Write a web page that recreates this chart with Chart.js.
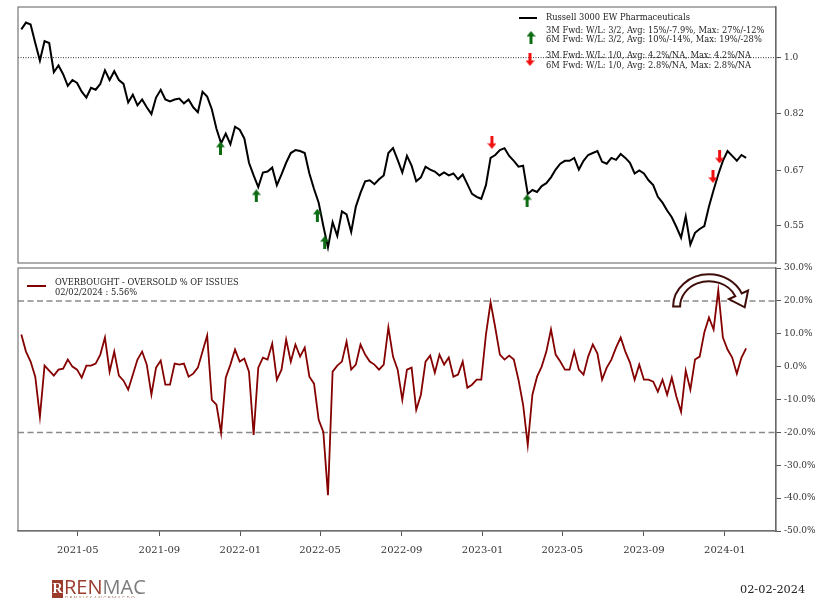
<!DOCTYPE html>
<html>
<head>
<meta charset="utf-8">
<title>Russell 3000 EW Pharmaceuticals</title>
<script src="https://cdn.jsdelivr.net/npm/chart.js@4.4.1/dist/chart.umd.min.js"></script>
<style>
  html, body { margin: 0; padding: 0; background: #fff; }
  body { width: 831px; height: 598px; position: relative; overflow: hidden; font-family: "DejaVu Serif", serif; }
  #topCanvas { position: absolute; left: 0; top: 0; }
  #botCanvas { position: absolute; left: 0; top: 250px; }
  #logo { position: absolute; left: 52px; top: 579px; width: 130px; height: 19px; overflow: hidden; z-index: 2; }
  #logo .mark { position: absolute; left: 0; top: 1px; width: 11px; height: 18px; background: #9a3b2c; color: #fff;
                font: bold 14px "Liberation Serif", serif; line-height: 18px; text-align: center; }
  #logo .word { position: absolute; left: 12px; top: -6px; font: 400 20px "Open Sans", sans-serif; white-space: nowrap; line-height: 28px; }
  #logo .ren { color: #9a3b2c; }
  #logo .mac { color: #7c7c7c; }
  #logo .sub { position: absolute; left: 13px; top: 16px; font: 5px "Open Sans", sans-serif; letter-spacing: 1.3px; color: #b0786c; white-space: nowrap; }
  #stamp { position: absolute; left: 740px; top: 583px; font: 11.3px "DejaVu Serif", serif; color: #222; z-index: 2; }
</style>
</head>
<body>
<canvas id="topCanvas" width="831" height="270"></canvas>
<canvas id="botCanvas" width="831" height="348"></canvas>
<div id="logo"><div class="mark">R</div><div class="word"><span class="ren">REN</span><span class="mac">MAC</span></div><div class="sub">RENAISSANCEMACRO</div></div>
<div id="stamp">02-02-2024</div>
<script>
// ---- weekly observations (Fridays), first one 2021-02-05 ----
const firstWeek = '2021-02-05';
const weekCount = 157;

// Russell 3000 EW Pharmaceuticals, relative level
const priceValues = [
  1.1055, 1.1325, 1.1247, 1.0532, 0.9897, 1.0605, 1.0532, 0.9495, 0.9727, 0.9429,
  0.9046, 0.9236, 0.9140, 0.8860, 0.8678, 0.8984, 0.8922, 0.9109, 0.9560, 0.9236,
  0.9528, 0.9236, 0.9109, 0.8530, 0.8769, 0.8442, 0.8619, 0.8383, 0.8183, 0.8678,
  0.8922, 0.8619, 0.8559, 0.8619, 0.8648, 0.8500, 0.8619, 0.8383, 0.8240, 0.8860,
  0.8708, 0.8326, 0.7769, 0.7377, 0.7636, 0.7352, 0.7823, 0.7742, 0.7505, 0.6884,
  0.6581, 0.6314, 0.6650, 0.6673, 0.6766, 0.6358, 0.6604, 0.6884, 0.7126, 0.7201,
  0.7176, 0.7126, 0.6627, 0.6271, 0.5974, 0.5499, 0.5096, 0.5575, 0.5311, 0.5791,
  0.5731, 0.5385, 0.5892, 0.6184, 0.6446, 0.6469, 0.6380, 0.6491, 0.6581, 0.7126,
  0.7250, 0.6955, 0.6650, 0.7053, 0.6813, 0.6446, 0.6536, 0.6789, 0.6719, 0.6673,
  0.6581, 0.6650, 0.6581, 0.6627, 0.6491, 0.6604, 0.6380, 0.6163, 0.6099, 0.6057,
  0.6358, 0.7004, 0.7077, 0.7201, 0.7250, 0.7053, 0.6932, 0.6789, 0.6813, 0.6163,
  0.6249, 0.6206, 0.6336, 0.6402, 0.6536, 0.6719, 0.6861, 0.6932, 0.6932, 0.7004,
  0.6719, 0.6932, 0.7077, 0.7126, 0.7176, 0.6908, 0.6861, 0.7004, 0.6955, 0.7101,
  0.7004, 0.6884, 0.6627, 0.6697, 0.6627, 0.6469, 0.6358, 0.6099, 0.5974, 0.5811,
  0.5672, 0.5480, 0.5275, 0.5692, 0.5149, 0.5367, 0.5442, 0.5499, 0.5892, 0.6249,
  0.6604, 0.6932, 0.7176, 0.7053, 0.6932, 0.7077, 0.7004
];

// Overbought - oversold % of issues
const oscValues = [
  9.77, 4.58, 1.53, -3.05, -15.27, 0.31, -1.22, -2.75, -0.92, -0.61,
  2.14, 0.00, -0.92, -3.36, 0.31, 0.31, 0.92, 3.66, 8.85, -1.53,
  4.58, -2.75, -4.27, -7.02, -2.44, 2.14, 4.58, 0.61, -8.55, -0.31,
  1.83, -5.50, -5.50, 0.92, 0.61, 0.92, -3.05, -2.14, -0.31, 4.58,
  9.47, -10.08, -11.60, -20.15, -3.36, 0.61, 5.19, 1.53, 2.44, -1.53,
  -20.76, -0.31, 2.75, 2.14, 7.02, -3.97, -0.92, 8.24, 1.53, 6.72,
  3.05, 5.80, -3.05, -5.19, -16.18, -19.85, -39.08, -1.53, 0.31, 1.53,
  7.63, -0.92, 0.61, 6.72, 3.66, 1.53, 0.61, -0.92, 0.61, 11.91,
  3.05, -0.92, -10.08, -0.92, -0.31, -13.13, -8.55, 1.53, 3.36, -1.83,
  3.66, 0.61, 2.75, -3.05, -2.44, 1.53, -6.41, -5.50, -3.97, -3.97,
  9.77, 19.54, 11.91, 3.66, 2.14, 3.36, 2.14, -3.97, -11.60, -23.82,
  -8.55, -3.05, 0.00, 4.58, 11.30, 3.66, 1.53, -0.92, -0.92, 4.58,
  -0.92, -2.44, 3.05, 6.72, 3.97, -3.97, -0.31, 2.14, 5.80, 8.85,
  4.58, 1.22, -3.97, 0.61, -3.97, -3.97, -4.58, -7.63, -3.97, -8.55,
  -3.36, -9.16, -13.74, -1.22, -7.02, 2.14, 3.05, 10.38, 14.96, 11.30,
  23.21, 8.85, 5.19, 2.75, -2.14, 2.75, 5.56
];

// Signal markers on the price line
const buyDates   = ['2021-12-02', '2022-01-25', '2022-04-27', '2022-05-08', '2023-03-09'];
const buyLevels  = [0.7250, 0.6120, 0.5712, 0.5185, 0.6016];
const sellDates  = ['2023-01-15', '2023-12-14', '2023-12-24'];
const sellLevels = [0.7402, 0.6559, 0.7028];

// Axis ticks
const monthTicks = ['2021-05', '2021-09', '2022-01', '2022-05', '2022-09', '2023-01', '2023-05', '2023-09', '2024-01'];
const priceTicks = [0.55, 0.67, 0.82, 1.0];
const priceTickLabels = ['0.55', '0.67', '0.82', '1.0'];
const oscTicks = [-50, -40, -30, -20, -10, 0, 10, 20, 30];
const oscBands = [20, -20];

const seriesName = 'Russell 3000 EW Pharmaceuticals';
const buyStats  = ['3M Fwd: W/L: 3/2, Avg: 15%/-7.9%, Max: 27%/-12%', '6M Fwd: W/L: 3/2, Avg: 10%/-14%, Max: 19%/-28%'];
const sellStats = ['3M Fwd: W/L: 1/0, Avg: 4.2%/NA, Max: 4.2%/NA', '6M Fwd: W/L: 1/0, Avg: 2.8%/NA, Max: 2.8%/NA'];
const oscName = 'OVERBOUGHT - OVERSOLD % OF ISSUES';

// ---- helpers ----
const DAY = 86400000;
const t0 = Date.parse(firstWeek);
const weekDates = Array.from({ length: weekCount }, (_, i) => t0 + i * 7 * DAY);
const X_MIN = Date.parse('2021-01-31');
const X_MAX = Date.parse('2024-03-18');
const SERIF = '"DejaVu Serif", "Liberation Serif", serif';
const LEGEND_FONT = '8.3px ' + SERIF;
Chart.defaults.font.family = SERIF;

function monthLabel(v) {
  const d = new Date(v);
  return d.getUTCFullYear() + '-' + String(d.getUTCMonth() + 1).padStart(2, '0');
}
function dmy(v) {
  const d = new Date(v);
  return String(d.getUTCMonth() + 1).padStart(2, '0') + '/' + String(d.getUTCDate()).padStart(2, '0') + '/' + d.getUTCFullYear();
}
function arrowIcon(color, up) {
  const c = document.createElement('canvas');
  c.width = 9; c.height = 13;
  const g = c.getContext('2d');
  g.fillStyle = color;
  g.beginPath();
  if (up) {
    g.moveTo(4.5, 0); g.lineTo(9, 5.5); g.lineTo(6, 5.5); g.lineTo(6, 13); g.lineTo(3, 13); g.lineTo(3, 5.5); g.lineTo(0, 5.5);
  } else {
    g.moveTo(4.5, 13); g.lineTo(9, 7.5); g.lineTo(6, 7.5); g.lineTo(6, 0); g.lineTo(3, 0); g.lineTo(3, 7.5); g.lineTo(0, 7.5);
  }
  g.closePath();
  g.fill();
  return c;
}
const upArrow = arrowIcon('#0d6b12', true);
const downArrow = arrowIcon('#f01010', false);

// keep the plot rectangle fixed: no automatic room for half tick labels
function noLabelOverflow(s) { s.paddingTop = 0; s.paddingBottom = 0; s.paddingLeft = 0; s.paddingRight = 0; }

const xAxisBase = {
  type: 'linear', min: X_MIN, max: X_MAX,
  afterBuildTicks: s => { s.ticks = monthTicks.map(m => ({ value: Date.parse(m + '-01') })); },
  ticks: { callback: v => monthLabel(v), autoSkip: false, maxRotation: 0, padding: 8, color: '#333', font: { size: 10 } },
  grid: { display: true, drawOnChartArea: false, drawTicks: true, tickLength: 5, color: '#555' },
  border: { display: true, color: '#666', width: 1.2 }
};

const framePlugin = {
  id: 'frame',
  afterDraw(chart) {
    const { ctx, chartArea: a } = chart;
    ctx.save();
    ctx.strokeStyle = '#777';
    ctx.lineWidth = 1.2;
    ctx.strokeRect(a.left, a.top, a.right - a.left, a.bottom - a.top);
    ctx.restore();
  }
};

// ---- price panel ----
const topPlugin = {
  id: 'topExtras',
  beforeDatasetsDraw(chart) {
    const { ctx, chartArea: a, scales: { y } } = chart;
    const py = y.getPixelForValue(1.0);
    ctx.save();
    ctx.strokeStyle = '#333';
    ctx.lineWidth = 1;
    ctx.setLineDash([1, 1.5]);
    ctx.beginPath();
    ctx.moveTo(a.left, py); ctx.lineTo(a.right + 3, py);
    ctx.stroke();
    ctx.restore();
  },
  afterDraw(chart) {
    const { ctx } = chart;
    ctx.save();
    ctx.strokeStyle = '#000';
    ctx.lineWidth = 2;
    ctx.beginPath(); ctx.moveTo(519, 18); ctx.lineTo(537, 18); ctx.stroke();
    ctx.fillStyle = '#222';
    ctx.textBaseline = 'middle';
    ctx.font = LEGEND_FONT;
    ctx.fillText(seriesName, 546, 18);
    ctx.drawImage(upArrow, 526.5, 31);
    ctx.fillText(buyStats[0], 546, 31);
    ctx.fillText(buyStats[1], 546, 40);
    ctx.drawImage(downArrow, 525.5, 53);
    ctx.fillText(sellStats[0], 546, 56);
    ctx.fillText(sellStats[1], 546, 65.5);
    ctx.restore();
  }
};

new Chart(document.getElementById('topCanvas'), {
  type: 'line',
  data: {
    datasets: [
      { label: 'buy', order: 0, showLine: false, pointStyle: upArrow, pointRadius: 6,
        data: buyDates.map((d, i) => ({ x: Date.parse(d), y: buyLevels[i] })) },
      { label: 'sell', order: 0, showLine: false, pointStyle: downArrow, pointRadius: 6,
        data: sellDates.map((d, i) => ({ x: Date.parse(d), y: sellLevels[i] })) },
      { label: seriesName, order: 1, borderColor: '#000', borderWidth: 2, pointRadius: 0, tension: 0,
        data: weekDates.map((d, i) => ({ x: d, y: priceValues[i] })) }
    ]
  },
  options: {
    responsive: false, animation: false, events: [],
    layout: { padding: { top: 5, left: 18, right: 0, bottom: 2 } },
    plugins: { legend: { display: false }, tooltip: { enabled: false } },
    scales: {
      x: Object.assign({}, xAxisBase, { display: false }),
      y: {
        type: 'logarithmic', position: 'right', min: 0.4822, max: 1.197,
        afterBuildTicks: s => { s.ticks = priceTicks.map(v => ({ value: v })); },
        afterFit: s => { s.width = 55; noLabelOverflow(s); },
        ticks: { callback: v => priceTickLabels[priceTicks.indexOf(v)], padding: 3, color: '#333', font: { size: 9 } },
        grid: { display: true, drawOnChartArea: false, drawTicks: true, tickLength: 5, color: '#555' },
        border: { display: true, color: '#555', width: 1.2 }
      }
    }
  },
  plugins: [topPlugin, framePlugin]
});

// ---- oscillator panel ----
const turnArrow = { centerDate: Date.parse('2023-12-08'), halfSpanDays: 54, baseValue: 18.3, topValue: 28.1 };

const botPlugin = {
  id: 'botExtras',
  beforeDatasetsDraw(chart) {
    const { ctx, chartArea: a, scales: { y } } = chart;
    ctx.save();
    ctx.strokeStyle = '#8a8a8a';
    ctx.lineWidth = 1.5;
    ctx.setLineDash([6, 3.5]);
    oscBands.forEach(v => {
      const py = y.getPixelForValue(v);
      ctx.beginPath(); ctx.moveTo(a.left, py); ctx.lineTo(a.right, py); ctx.stroke();
    });
    ctx.restore();
  },
  afterDatasetsDraw(chart) {
    const { ctx, scales: { x, y } } = chart;
    const cx = x.getPixelForValue(turnArrow.centerDate);
    const rxO = x.getPixelForValue(turnArrow.centerDate + turnArrow.halfSpanDays * DAY) - cx;
    const cy = y.getPixelForValue(turnArrow.baseValue);
    const ryO = cy - y.getPixelForValue(turnArrow.topValue);
    const w = 7, rxI = rxO - w, ryI = ryO - w, a1 = -0.42;
    const pO = [cx + rxO * Math.cos(a1), cy + ryO * Math.sin(a1)];
    const pI = [cx + rxI * Math.cos(a1), cy + ryI * Math.sin(a1)];
    let nx = pO[0] - pI[0], ny = pO[1] - pI[1];
    const nl = Math.hypot(nx, ny); nx /= nl; ny /= nl;
    let tx = -rxO * Math.sin(a1), ty = ryO * Math.cos(a1);
    const tl = Math.hypot(tx, ty); tx /= tl; ty /= tl;
    const mid = [(pO[0] + pI[0]) / 2, (pO[1] + pI[1]) / 2];
    ctx.save();
    ctx.beginPath();
    ctx.ellipse(cx, cy, rxO, ryO, 0, Math.PI, 2 * Math.PI + a1, false);
    ctx.lineTo(pO[0] + nx * 7, pO[1] + ny * 7);
    ctx.lineTo(mid[0] + tx * 14, mid[1] + ty * 14);
    ctx.lineTo(pI[0] - nx * 7, pI[1] - ny * 7);
    ctx.lineTo(pI[0], pI[1]);
    ctx.ellipse(cx, cy, rxI, ryI, 0, 2 * Math.PI + a1, Math.PI, true);
    ctx.closePath();
    ctx.fillStyle = '#fff';
    ctx.fill();
    ctx.strokeStyle = '#3f0d0a';
    ctx.lineWidth = 2;
    ctx.lineJoin = 'miter';
    ctx.stroke();
    ctx.restore();
  },
  afterDraw(chart) {
    const { ctx } = chart;
    const last = weekCount - 1;
    ctx.save();
    ctx.strokeStyle = '#800000';
    ctx.lineWidth = 2;
    ctx.beginPath(); ctx.moveTo(27, 36); ctx.lineTo(46, 36); ctx.stroke();
    ctx.fillStyle = '#222';
    ctx.textBaseline = 'middle';
    ctx.font = LEGEND_FONT;
    ctx.fillText(oscName, 55, 32.5);
    ctx.fillText(dmy(weekDates[last]) + ' : ' + oscValues[last].toFixed(2) + '%', 55, 43);
    ctx.restore();
  }
};

new Chart(document.getElementById('botCanvas'), {
  type: 'line',
  data: {
    datasets: [
      { label: oscName, borderColor: '#850000', borderWidth: 1.8, pointRadius: 0, tension: 0,
        data: weekDates.map((d, i) => ({ x: d, y: oscValues[i] })) }
    ]
  },
  options: {
    responsive: false, animation: false, events: [],
    layout: { padding: { top: 18, left: 18, right: 0, bottom: 0 } },
    plugins: { legend: { display: false }, tooltip: { enabled: false } },
    scales: {
      x: Object.assign({}, xAxisBase, { afterFit: s => { s.height = 67; noLabelOverflow(s); } }),
      y: {
        type: 'linear', position: 'right', min: -50, max: 30,
        afterBuildTicks: s => { s.ticks = oscTicks.map(v => ({ value: v })); },
        afterFit: s => { s.width = 55; noLabelOverflow(s); },
        ticks: { callback: v => v.toFixed(1) + '%', padding: 3, color: '#333', font: { size: 9 } },
        grid: { display: true, drawOnChartArea: false, drawTicks: true, tickLength: 5, color: '#555' },
        border: { display: true, color: '#555', width: 1.2 }
      }
    }
  },
  plugins: [botPlugin, framePlugin]
});
</script>
</body>
</html>
